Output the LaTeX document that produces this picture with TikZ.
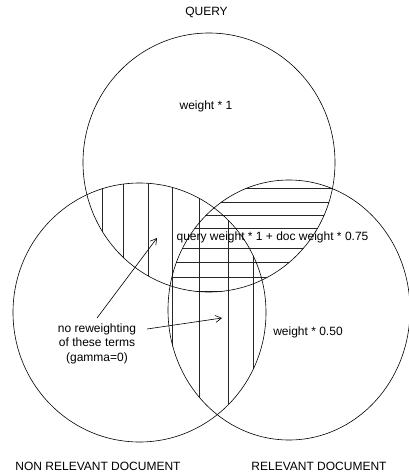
\documentclass[tikz,border=0pt]{standalone}
\usepackage{fontspec}
\setmainfont{Liberation Sans}
\usetikzlibrary{arrows.meta}
\begin{document}
\begin{tikzpicture}[x=1pt,y=-1pt,
  circ/.style={line width=0.6pt},
  hatch/.style={line width=0.5pt, black!85},
  lbl/.style={font=\fontsize{12}{14.5}\selectfont, inner sep=0pt},
  pointer/.style={line width=0.6pt, -{Straight Barb[length=6pt,width=7pt]}}]
\useasboundingbox (0,0) rectangle (408,474);
% vertical hatching: non relevant ∩ query
\begin{scope}
  \clip (139.5,312.5) ellipse [x radius=126.5pt, y radius=129.5pt];
  \clip (209,162.5) ellipse [x radius=126pt, y radius=129.5pt];
  \foreach \x in {102,123,148,172,199,228,253} \draw[hatch] (\x,150) -- (\x,450);
\end{scope}
% vertical hatching: non relevant ∩ relevant
\begin{scope}
  \clip (139.5,312.5) ellipse [x radius=126.5pt, y radius=129.5pt];
  \clip (289,310) ellipse [x radius=121pt, y radius=130pt];
  \foreach \x in {102,123,148,172,199,228,253} \draw[hatch] (\x,150) -- (\x,450);
\end{scope}
% horizontal hatching: query ∩ relevant
\begin{scope}
  \clip (209,162.5) ellipse [x radius=126pt, y radius=129.5pt];
  \clip (289,310) ellipse [x radius=121pt, y radius=130pt];
  \foreach \y in {188,202,215,228,248,262,277,291} \draw[hatch] (150,\y) -- (350,\y);
\end{scope}
% circles
\draw[circ] (209,162.5) ellipse [x radius=126pt, y radius=129.5pt];
\draw[circ] (139.5,312.5) ellipse [x radius=126.5pt, y radius=129.5pt];
\draw[circ] (289,310) ellipse [x radius=121pt, y radius=130pt];
% labels
\node[lbl] (query) at (206.5,12) {QUERY};
\node[lbl] (w1) at (206,106) {weight * 1};
\node[lbl] (qw) at (272.5,237) {query weight * 1 + doc weight * 0.75};
\node[lbl] (w50) at (308,332) {weight * 0.50};
\node[lbl, align=center] (norew) at (97,343.5) {no reweighting\\of these terms\\(gamma=0)};
\node[lbl] (nonrel) at (98,466) {NON RELEVANT DOCUMENT};
\node[lbl] (rel) at (319,466) {RELEVANT DOCUMENT};
% arrows
\coordinate (s1) at (97,318);
\coordinate (t1) at (157,238);
\coordinate (s2) at (147,329);
\coordinate (t2) at (222,318);
\draw[pointer] (s1) -- (t1);
\draw[pointer] (s2) -- (t2);
\end{tikzpicture}
\end{document}
